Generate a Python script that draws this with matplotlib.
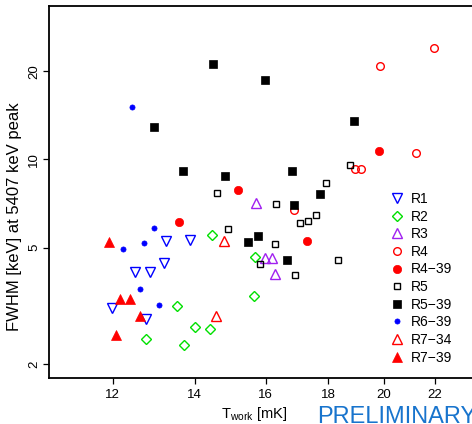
import matplotlib
matplotlib.use("Agg")
import matplotlib.pyplot as plt
from matplotlib.ticker import FixedLocator, NullLocator, FixedFormatter

plt.rcParams['font.family'] = ['Liberation Sans', 'DejaVu Sans']

# ---- data (T_work [mK], FWHM [keV]) ----
r1_x = [13.26, 13.87, 13.22, 12.51, 12.87, 11.97, 12.77]
r1_y = [5.28, 5.31, 4.44, 4.13, 4.12, 3.11, 2.86]

r2_x = [14.45, 15.69, 15.64, 13.53, 14.00, 14.42, 12.78, 13.71]
r2_y = [5.51, 4.66, 3.41, 3.15, 2.69, 2.63, 2.43, 2.33]

r3_x = [15.72, 15.97, 16.20, 16.29]
r3_y = [7.09, 4.61, 4.61, 4.07]

r4_x = [21.98, 19.85, 21.25, 18.92, 19.13, 16.87]
r4_y = [23.97, 20.80, 10.48, 9.29, 9.29, 6.71]

r4_39_x = [15.20, 19.80, 13.58, 17.30]
r4_39_y = [7.88, 10.68, 6.12, 5.28]

r5_x = [14.60, 18.75, 17.94, 16.31, 17.06, 17.34, 17.60, 14.90, 16.29, 15.84, 18.33, 16.91]
r5_y = [7.71, 9.56, 8.34, 7.06, 6.07, 6.15, 6.45, 5.81, 5.15, 4.40, 4.55, 4.04]

r5_39_x = [14.50, 12.96, 13.70, 14.83, 15.97, 18.88, 16.82, 17.72, 16.87, 15.48, 15.76, 16.67]
r5_39_y = [21.1, 12.9, 9.15, 8.75, 18.7, 13.56, 9.15, 7.61, 6.98, 5.24, 5.48, 4.55]

r6_39_x = [12.45, 12.97, 12.22, 12.73, 12.63, 13.08]
r6_39_y = [15.1, 5.84, 4.94, 5.19, 3.62, 3.19]

r7_34_x = [14.80, 14.57]
r7_34_y = [5.26, 2.93]

r7_39_x = [11.92, 12.16, 12.40, 12.63, 12.07]
r7_39_y = [5.23, 3.33, 3.33, 2.92, 2.52]

x_ticks = [12, 14, 16, 18, 20, 22]
y_ticks = [2, 5, 10, 20]

GREEN = '#00E000'
PURPLE = '#A020F0'

fig = plt.figure(figsize=(4.72, 4.24), dpi=100)
ax = fig.add_axes([49/472, 1-378/424, (520-49)/472, (378-6)/424])

ax.plot(r1_x, r1_y, 'v', ms=7, mfc='none', mec='blue', mew=1.0, label='R1', ls='none')
ax.plot(r2_x, r2_y, 'D', ms=5.5, mfc='none', mec=GREEN, mew=1.0, label='R2', ls='none')
ax.plot(r3_x, r3_y, '^', ms=7, mfc='none', mec=PURPLE, mew=1.0, label='R3', ls='none')
ax.plot(r4_x, r4_y, 'o', ms=5.5, mfc='none', mec='red', mew=1.0, label='R4', ls='none')
ax.plot(r4_39_x, r4_39_y, 'o', ms=6, mfc='red', mec='red', mew=0.5, label='R4\u221239', ls='none')
ax.plot(r5_x, r5_y, 's', ms=5, mfc='none', mec='black', mew=1.0, label='R5', ls='none')
ax.plot(r5_39_x, r5_39_y, 's', ms=5.5, mfc='black', mec='black', mew=0.5, label='R5\u221239', ls='none')
ax.plot(r6_39_x, r6_39_y, 'o', ms=3.7, mfc='blue', mec='blue', mew=0.5, label='R6\u221239', ls='none')
ax.plot(r7_34_x, r7_34_y, '^', ms=7, mfc='none', mec='red', mew=1.0, label='R7\u221234', ls='none')
ax.plot(r7_39_x, r7_39_y, '^', ms=7, mfc='red', mec='red', mew=0.5, label='R7\u221239', ls='none')

ax.set_xscale('log')
ax.set_yscale('log')
ax.set_xlim(10.64, 25.83)
ax.set_ylim(1.795, 33.4)

ax.xaxis.set_major_locator(FixedLocator(x_ticks))
ax.xaxis.set_major_formatter(FixedFormatter([str(v) for v in x_ticks]))
ax.xaxis.set_minor_locator(NullLocator())
ax.yaxis.set_major_locator(FixedLocator(y_ticks))
ax.yaxis.set_major_formatter(FixedFormatter([str(v) for v in y_ticks]))
ax.yaxis.set_minor_locator(NullLocator())

ax.tick_params(direction='out', length=4.3, width=0.9, labelsize=9.5)
ax.tick_params(axis='x', pad=3.6)
ax.tick_params(axis='y', pad=2.2)
for lab in ax.get_yticklabels():
    lab.set_rotation(90)
    lab.set_va('center')
for s in ax.spines.values():
    s.set_linewidth(1.3)

fig.text(15/472, 1-217/424, 'FWHM [keV] at 5407 keV peak', rotation=90,
         ha='center', va='center', fontsize=12)
fig.text(254/472, 1-414/424, r'T$_{\mathregular{work}}$ [mK]', ha='center', va='center',
         fontsize=10.5)
fig.text(317/472, 1-423/424, 'PRELIMINARY', ha='left', va='baseline',
         fontsize=17, color='#1874CD')

ax.legend(loc='upper left', bbox_to_anchor=(390/472, 1-192/424), bbox_transform=fig.transFigure,
          frameon=False, fontsize=10, handlelength=1.0, handletextpad=0.5,
          labelspacing=0.26, borderpad=0, borderaxespad=0, numpoints=1)

fig.savefig('out.png', dpi=100)
